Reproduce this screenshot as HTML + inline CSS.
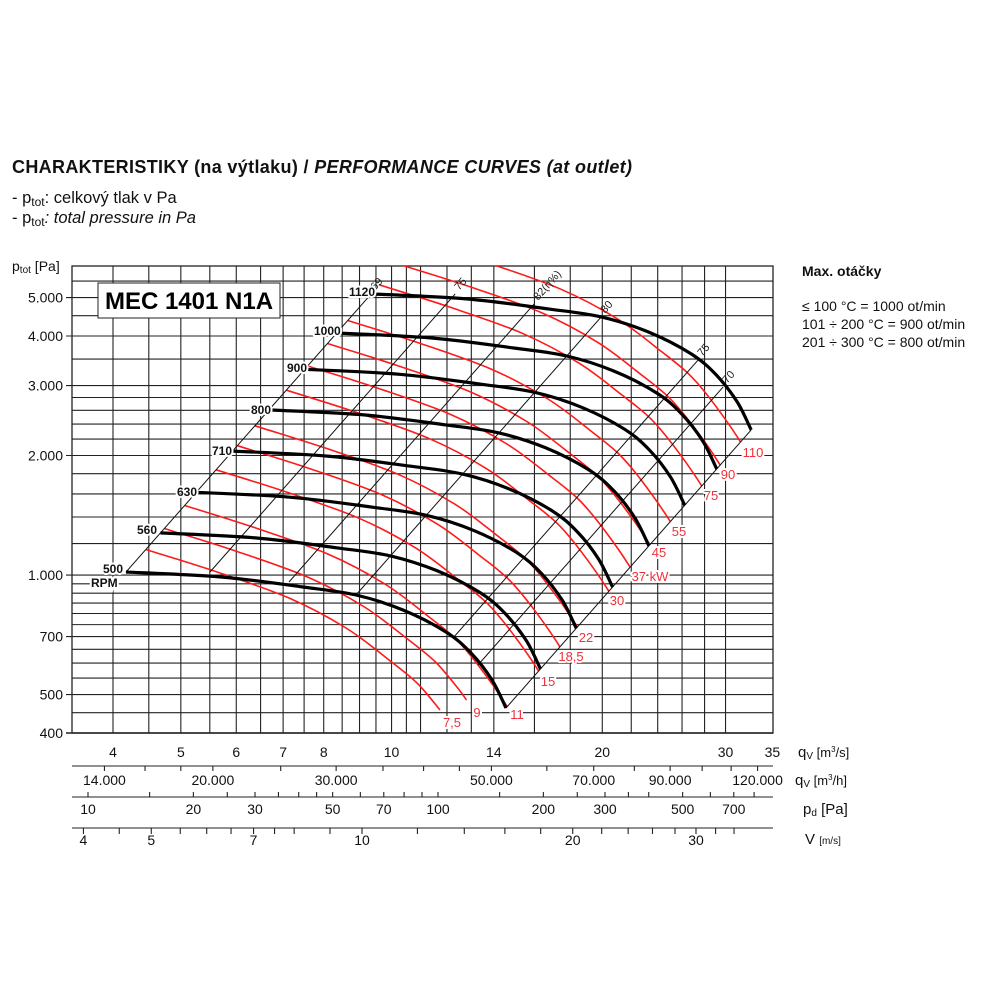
<!DOCTYPE html>
<html><head><meta charset="utf-8">
<style>
html,body{margin:0;padding:0;background:#fff;}
svg{display:block;font-family:"Liberation Sans",Arial,sans-serif;}
</style></head>
<body>
<svg id="s" width="1000" height="1000" viewBox="0 0 1000 1000" xmlns="http://www.w3.org/2000/svg">
<rect width="1000" height="1000" fill="#fff"/>
<text x="12" y="173" font-size="18" font-weight="bold" fill="#111" textLength="620">CHARAKTERISTIKY (na výtlaku) / <tspan font-style="italic">PERFORMANCE CURVES (at outlet)</tspan></text>
<text x="12" y="203" font-size="16.5" fill="#111">- p<tspan font-size="12" dy="3">tot</tspan><tspan dy="-3">: celkový tlak v Pa</tspan></text>
<text x="12" y="223" font-size="16.5" fill="#111">- p<tspan font-size="12" dy="3">tot</tspan><tspan dy="-3" font-style="italic">: total pressure in Pa</tspan></text>
<text x="12" y="271" font-size="14" fill="#111">p<tspan font-size="10" dy="2">tot</tspan><tspan dy="-2"> [Pa]</tspan></text>
<g id="grid" stroke="#222" stroke-width="1.1" fill="none"></g>
<g id="red" clip-path="url(#cpDiag)"><g clip-path="url(#cpFrame)" id="redIn" stroke="#ff1a1a" stroke-width="1.6" fill="none"></g></g>
<g id="eff" stroke="#111" stroke-width="1" fill="none"></g>
<g id="fan" stroke="#000" stroke-width="3.2" fill="none"></g>
<g id="txt"></g>
<defs>
<clipPath id="cpFrame"><rect x="72" y="266" width="701" height="467"/></clipPath>
<clipPath id="cpDiag"><polygon points="-224,969 826,-222 1206,-86 156,1105"/></clipPath>
</defs>
<rect x="98" y="283" width="182" height="35" fill="#fff" stroke="#222" stroke-width="1"/>
<text x="189" y="309" font-size="24" font-weight="bold" text-anchor="middle" fill="#000">MEC 1401 N1A</text>
<text x="802" y="276" font-size="14" font-weight="bold" fill="#111">Max. otáčky</text>
<text x="802" y="311" font-size="14" fill="#111">≤ 100 °C = 1000 ot/min</text>
<text x="802" y="329" font-size="14" fill="#111">101 ÷ 200 °C = 900 ot/min</text>
<text x="802" y="347" font-size="14" fill="#111">201 ÷ 300 °C = 800 ot/min</text>
<text x="798" y="757" font-size="15" fill="#111">q<tspan font-size="10" dy="2">V</tspan><tspan dy="-2" font-size="13"> [m</tspan><tspan font-size="8" dy="-5">3</tspan><tspan dy="5" font-size="13">/s]</tspan></text>
<text x="795" y="785" font-size="15" fill="#111">q<tspan font-size="10" dy="2">V</tspan><tspan dy="-2" font-size="13"> [m</tspan><tspan font-size="8" dy="-5">3</tspan><tspan dy="5" font-size="13">/h]</tspan></text>
<text x="803" y="814" font-size="15" fill="#111">p<tspan font-size="10" dy="2">d</tspan><tspan dy="-2"> [Pa]</tspan></text>
<text x="805" y="844" font-size="15" fill="#111">V <tspan font-size="10">[m/s]</tspan></text>
</svg>
<script>
var NS="http://www.w3.org/2000/svg";
function el(p,t,a,txt){var e=document.createElementNS(NS,t);for(var k in a)e.setAttribute(k,a[k]);if(txt!=null)e.textContent=txt;document.getElementById(p).appendChild(e);return e;}
function L(v){return Math.log(v)/Math.LN10;}
function X(q){return 113+700*L(q/4);}
function Y(p){return 733-397*L(p/400);}
function smooth(pts){var d="M"+pts[0][0].toFixed(1)+","+pts[0][1].toFixed(1);
 for(var i=0;i<pts.length-1;i++){var p0=pts[i-1]||pts[i],p1=pts[i],p2=pts[i+1],p3=pts[i+2]||p2;
  var c1=[p1[0]+(p2[0]-p0[0])/6,p1[1]+(p2[1]-p0[1])/6],c2=[p2[0]-(p3[0]-p1[0])/6,p2[1]-(p3[1]-p1[1])/6];
  d+=" C"+c1[0].toFixed(1)+","+c1[1].toFixed(1)+" "+c2[0].toFixed(1)+","+c2[1].toFixed(1)+" "+p2[0].toFixed(1)+","+p2[1].toFixed(1);}
 return d;}
var ps=[];for(var p=400;p<=1000;p+=50)ps.push(p);for(p=1200;p<=2800;p+=200)ps.push(p);ps=ps.concat([3000,3500,4000,4500,5000,5500]);
var major={400:"400",500:"500",700:"700",1000:"1.000",2000:"2.000",3000:"3.000",4000:"4.000",5000:"5.000"};
ps.forEach(function(p){var y=Y(p);el("grid","line",{x1:major[p]?66:72,x2:773,y1:y,y2:y,"stroke-width":p==400?1.6:1.1});
 if(major[p])el("txt","text",{x:63,y:y+5,"font-size":14,"text-anchor":"end",fill:"#111"},major[p]);});
var qs=[];for(var q=4;q<=11;q+=0.5)qs.push(q);qs=qs.concat([12,13,14,16,18,20,22,24,26,28,30]);
qs.forEach(function(q){var x=X(q);el("grid","line",{x1:x,x2:x,y1:266,y2:733});});
el("grid","rect",{x:72,y:266,width:701,height:467,"stroke-width":1.3});
var base=[[126,572],[221,577],[303,587],[356,595],[403,610],[446,632],[471,653],[492,680],[506,708]];
[500,560,630,710,800,900,1000,1120].forEach(function(n){var r=L(n/500),dx=700*r,dy=-794*r;
 el("fan","path",{d:smooth(base.map(function(p){return[p[0]+dx,p[1]+dy];}))});});
var mr=[[60,522],[100,535],[147.5,550],[217,572],[289,598],[346,628],[389,660],[417,683],[440,710],[468,750],[490,790]];
[7.5,9,11,15,18.5,22,30,37,45,55,75,90,110].forEach(function(P){var r=L(P/7.5)/3,dx=700*r,dy=-794*r;
 var m=mr;
 if(P==7.5)m=mr.slice(0,9);
 if(P==9)m=mr.slice(0,9).concat([[448,721]]);
 el("redIn","path",{d:smooth(m.map(function(p){return[p[0]+dx,p[1]+dy];}))});});
var es=[[126,572,"69"],[210,572,"75"],[289,582,"82(η%)"],[356,595,"80"],[453,638,"75"],[478,665,"70"],[506,708,""]];
var s=L(1120/500),ex=700*s,ey=-794*s;
es.forEach(function(e){el("eff","line",{x1:e[0],y1:e[1],x2:e[0]+ex,y2:e[1]+ey});
 if(e[2]){var tx=e[0]+ex+4,ty=e[1]+ey-3;el("txt","text",{x:tx,y:ty,"font-size":11,fill:"#222",transform:"rotate(-48.6 "+tx+" "+ty+")"},e[2]);}});
var fl=[[103,573,"500"],[137,534,"560"],[177,496,"630"],[212,455,"710"],[251,414,"800"],[287,372,"900"],[314,335,"1000"],[349,296,"1120"]];
fl.forEach(function(f){el("txt","text",{x:f[0],y:f[1],"font-size":12,"font-weight":"bold",fill:"#111",stroke:"#fff","stroke-width":4,"paint-order":"stroke","stroke-linejoin":"round"},f[2]);});
el("txt","text",{x:91,y:587,"font-size":12,"font-weight":"bold",fill:"#111",stroke:"#fff","stroke-width":4,"paint-order":"stroke"},"RPM");
var rl=[[452,722,"7,5"],[477,712,"9"],[517,714,"11"],[548,681,"15"],[571,656,"18,5"],[586,637,"22"],[617,600,"30"],[650,576,"37 kW"],[659,552,"45"],[679,531,"55"],[711,495,"75"],[728,474,"90"],[753,452,"110"]];
rl.forEach(function(f){el("txt","text",{x:f[0],y:f[1]+5,"font-size":13,"text-anchor":"middle",fill:"#f0303a",stroke:"#fff","stroke-width":4,"paint-order":"stroke","stroke-linejoin":"round"},f[2]);});
var lab=function(x,y,t){el("txt","text",{x:x,y:y,"font-size":14,"text-anchor":"middle",fill:"#111"},t);};
[[4,"4"],[5,"5"],[6,"6"],[7,"7"],[8,"8"],[10,"10"],[14,"14"],[20,"20"],[30,"30"],[35,"35"]].forEach(function(a){lab(X(a[0]),757,a[1]);});
el("grid","line",{x1:72,x2:773,y1:766,y2:766});
el("grid","line",{x1:72,x2:773,y1:797,y2:797});
el("grid","line",{x1:72,x2:773,y1:828,y2:828});
function Xh(h){return X(h/3600);}
[14,16,18,20,25,30,35,40,45,50,60,70,80,90,100,110,120].forEach(function(k){var x=Xh(k*1000);el("grid","line",{x1:x,x2:x,y1:766,y2:771});});
[[14,"14.000"],[20,"20.000"],[30,"30.000"],[50,"50.000"],[70,"70.000"],[90,"90.000"],[120,"120.000"]].forEach(function(a){lab(Xh(a[0]*1000),785,a[1]);});
function Xp(p){return -262+350*L(p);}
[10,15,20,25,30,35,40,45,50,60,70,80,90,100,150,200,250,300,350,400,500,600,700,800].forEach(function(p){var x=Xp(p);el("grid","line",{x1:x,x2:x,y1:792,y2:797});});
[10,20,30,50,70,100,200,300,500,700].forEach(function(p){lab(Xp(p),814,""+p);});
function Xv(v){return -338+700*L(v);}
[4,4.5,5,5.5,6,6.5,7,7.5,8,9,10,12,14,16,18,20,22,24,26,28,30,32,34].forEach(function(v){var x=Xv(v);el("grid","line",{x1:x,x2:x,y1:828,y2:834});});
[4,5,7,10,20,30].forEach(function(v){lab(Xv(v),845,""+v);});
</script>
</body></html>
